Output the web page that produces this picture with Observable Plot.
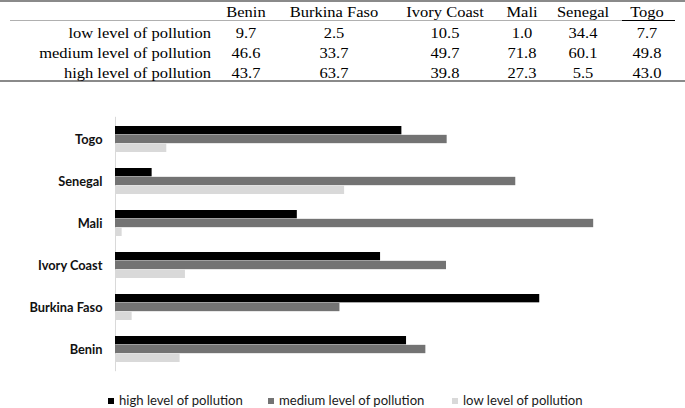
<!DOCTYPE html>
<html><head><meta charset="utf-8">
<script src="https://cdn.jsdelivr.net/npm/d3@7"></script>
<script src="https://cdn.jsdelivr.net/npm/@observablehq/plot@0.6"></script>
<style>
body{margin:0;background:#fff;}
#root{position:relative;width:685px;height:408px;overflow:hidden;background:#fff;}
.t{position:absolute;font-family:"Liberation Serif","Times New Roman",serif;font-size:15px;line-height:18px;color:#000;white-space:nowrap;}
.c{transform:translateX(-50%) scaleX(1.1);}
.r{transform:translateX(-100%) scaleX(1.1);transform-origin:right center;}
.ln{position:absolute;}
.lg{position:absolute;font-family:Lato,"Liberation Sans",Arial,sans-serif;font-size:13.1px;line-height:16px;color:#1a1a1a;white-space:nowrap;}
.sw{position:absolute;width:6px;height:6px;}
#chart{position:absolute;left:0;top:100px;}
</style></head><body><div id="root"><div id="chart"></div></div>
<script>
// ---- data ----
const countries = ["Benin", "Burkina Faso", "Ivory Coast", "Mali", "Senegal", "Togo"];
const levelNames = ["low level of pollution", "medium level of pollution", "high level of pollution"];
const lowValues = [9.7, 2.5, 10.5, 1.0, 34.4, 7.7];
const mediumValues = [46.6, 33.7, 49.7, 71.8, 60.1, 49.8];
const highValues = [43.7, 63.7, 39.8, 27.3, 5.5, 43.0];
const chartOrder = ["Togo", "Senegal", "Mali", "Ivory Coast", "Burkina Faso", "Benin"];
const legendOrder = ["high level of pollution", "medium level of pollution", "low level of pollution"];

// ---- layout ----
const colCenters = [246, 334, 445, 522, 583, 647];
const rowTops = [23.5, 44, 63.5];
const headerTop = 3;
const labelRight = 211;
const colors = {"high level of pollution": "#000000", "medium level of pollution": "#737373", "low level of pollution": "#d9d9d9"};
const legendX = [108, 268, 452];

const root = document.getElementById("root");
function add(cls, css, text) {
  const d = document.createElement("div");
  d.className = cls;
  Object.assign(d.style, css);
  if (text != null) d.textContent = text;
  root.appendChild(d);
  return d;
}
// table rules
add("ln", {left: "0px", top: "0px", width: "685px", height: "2px", background: "#8a8a8a"});
add("ln", {left: "10px", top: "20px", width: "665px", height: "1px", background: "#b0b0b0"});
add("ln", {left: "622px", top: "20px", width: "53px", height: "1px", background: "#000"});
add("ln", {left: "0px", top: "80px", width: "685px", height: "2px", background: "#8a8a8a"});
// header
countries.forEach((c, i) => add("t c", {left: colCenters[i] + "px", top: headerTop + "px"}, c));
const tableRows = [lowValues, mediumValues, highValues];
tableRows.forEach((vals, r) => {
  add("t r", {left: labelRight + "px", top: rowTops[r] + "px"}, levelNames[r]);
  vals.forEach((v, i) => add("t c", {left: colCenters[i] + "px", top: rowTops[r] + "px"}, v.toFixed(1)));
});

// chart data
const seriesVals = {"low level of pollution": lowValues, "medium level of pollution": mediumValues, "high level of pollution": highValues};
const dataFor = (lvl) => countries.map((c, i) => ({country: c, level: lvl, value: seriesVals[lvl][i]}));
const H = 280, mt = 16.8, mb = 8.8;
const step = (H - mt - mb) / 6;
const bw = step * 0.625, sub = bw / 3;

const plot = Plot.plot({
  width: 685,
  height: H,
  marginTop: mt,
  marginBottom: mb,
  marginLeft: 115,
  marginRight: 37.2,
  style: {fontFamily: "Lato, Liberation Sans, Arial, sans-serif", fontSize: "12.8px", fontWeight: "bold", color: "#111", background: "#fff"},
  x: {domain: [0, 80], axis: null},
  y: {domain: chartOrder, paddingInner: 0.375, paddingOuter: 0.1875, label: null, tickSize: 0, tickPadding: 13},
  marks: [
    Plot.ruleX([0], {stroke: "#d9d9d9", strokeWidth: 1}),
    Plot.barX(dataFor("high level of pollution"), {x: "value", y: "country", fill: colors["high level of pollution"], insetBottom: 2 * sub}),
    Plot.barX(dataFor("medium level of pollution"), {x: "value", y: "country", fill: colors["medium level of pollution"], insetTop: sub, insetBottom: sub}),
    Plot.barX(dataFor("low level of pollution"), {x: "value", y: "country", fill: colors["low level of pollution"], insetTop: 2 * sub})
  ]
});
document.getElementById("chart").appendChild(plot);

// legend
legendOrder.forEach((lvl, i) => {
  add("sw", {left: legendX[i] + "px", top: "397.5px", background: colors[lvl]});
  add("lg", {left: (legendX[i] + 11) + "px", top: "392px"}, lvl);
});
</script></body></html>
